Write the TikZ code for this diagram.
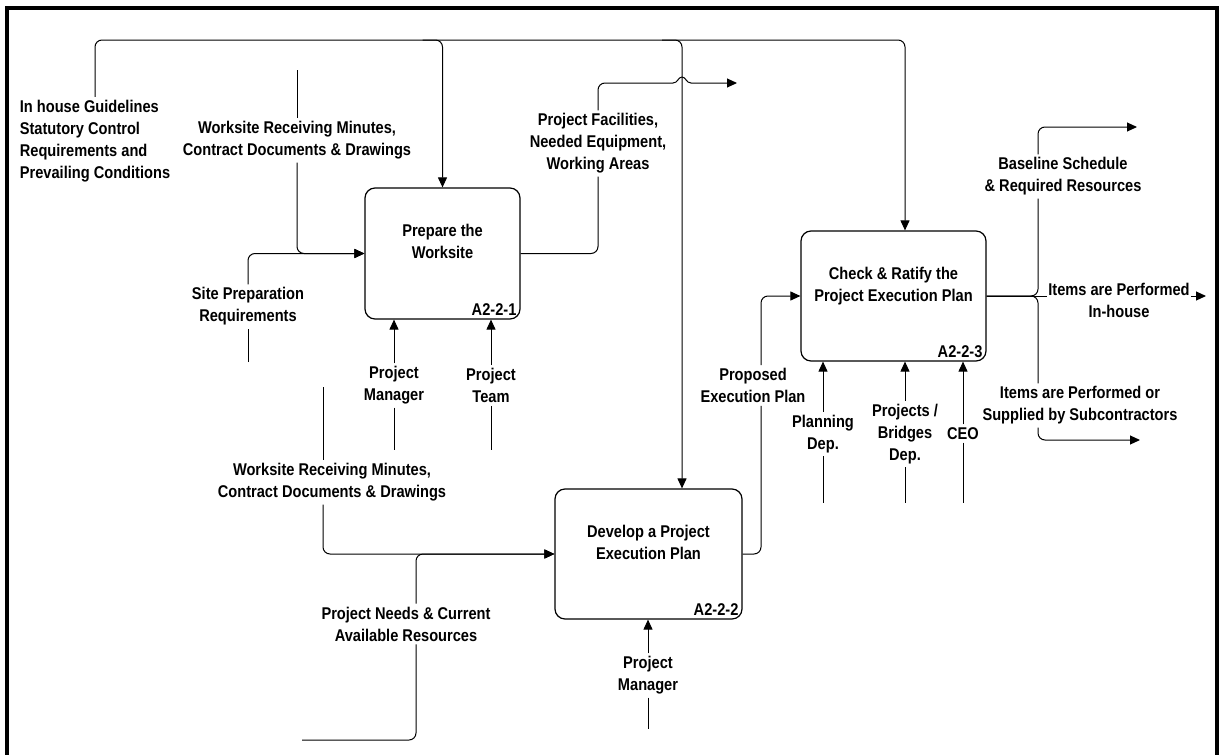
\documentclass[tikz,border=0pt]{standalone}
\usepackage{fontspec}
\setmainfont{Liberation Sans}[FakeStretch=0.86]
\usetikzlibrary{arrows.meta,positioning,calc}
\newcommand{\acttitle}[1]{\raisebox{10pt}[\height][\depth]{\begin{tabular}{@{}c@{}}#1\end{tabular}}}
\tikzset{
  act/.style={draw, rounded corners=10pt, line width=1.2pt, fill=white},
  idlbl/.style={anchor=south east, inner sep=4pt},
  lbl/.style={align=center, inner sep=3pt},
  link/.style={line width=1pt, rounded corners=7pt},
  flow/.style={-{Triangle[length=10pt,width=9pt]}, line width=1pt, rounded corners=7pt},
  frame/.style={line width=3.5pt}
}
\begin{document}
\begin{tikzpicture}[x=1pt, y=-1pt, font=\fontsize{17}{22}\selectfont\bfseries]
  \useasboundingbox (0,0) rectangle (1221,755);
  \draw[frame] (7,770) -- (7,8) -- (1217,8) -- (1217,770);

  % activities
  \node[act, minimum width=155pt, minimum height=131pt, label={[idlbl]south east:A2-2-1}] (prep) at (442.5,253.5) {\acttitle{Prepare the\\Worksite}};
  \node[act, minimum width=187pt, minimum height=130pt, label={[idlbl]south east:A2-2-2}] (dev) at (648.5,554) {\acttitle{Develop a Project\\Execution Plan}};
  \node[act, minimum width=185pt, minimum height=130pt, label={[idlbl]south east:A2-2-3}] (ratify) at (893.5,296) {\acttitle{Check \& Ratify the\\Project Execution Plan}};

  % arrow labels
  \node[lbl, align=left] (ihg) at (95,141) {In house Guidelines\\Statutory Control\\Requirements and\\Prevailing Conditions};
  \node[lbl] (wrmA) at (297,140.5) {Worksite Receiving Minutes,\\Contract Documents \& Drawings};
  \node[lbl] (spr) at (248,306.5) {Site Preparation\\Requirements};
  \node[lbl] (pfac) at (598,143.5) {Project Facilities,\\Needed Equipment,\\Working Areas};
  \node[lbl] (pmA) at (394,385.5) {Project\\Manager};
  \node[lbl] (team) at (491,385.5) {Project\\Team};
  \node[lbl] (wrmB) at (332,482.5) {Worksite Receiving Minutes,\\Contract Documents \& Drawings};
  \node[lbl] (pneeds) at (406,624) {Project Needs \& Current\\Available Resources};
  \node[lbl] (pmB) at (648,675.5) {Project\\Manager};
  \node[lbl] (pep) at (753,385.5) {Proposed\\Execution Plan};
  \node[lbl] (plan) at (823,434) {Planning\\Dep.};
  \node[lbl] (pbd) at (905,434) {Projects /\\Bridges\\Dep.};
  \node[lbl] (ceo) at (963,433.5) {CEO};
  \node[lbl] (bls) at (1063,176.5) {Baseline Schedule\\\& Required Resources};
  \node[lbl] (sub) at (1080,405.5) {Items are Performed or\\Supplied by Subcontractors};

  % free ends
  \coordinate (ctlend) at (905,40);
  \coordinate (hop) at (682,83);
  \coordinate (wrmAin) at (297,70);
  \coordinate (sprin) at (248,362);
  \coordinate (wrmBin) at (323,387);
  \coordinate (pneedsin) at (302,740);
  \coordinate (mechA) at (0,450);
  \coordinate (mechB) at (0,729);
  \coordinate (mechC) at (0,503);
  \coordinate (pfacout) at (737,83);
  \coordinate (blsout) at (1137,127);
  \coordinate (inhout) at (1206,296);
  \coordinate (subout) at (1140,440);

  % controls from the top
  \draw[flow] (ihg.north) |- (ctlend) -- (ctlend |- ratify.north);
  \draw[flow] ($(prep.north |- ctlend)+(-20,0)$) -| (prep.north);
  \draw[flow] ($(hop |- ctlend)+(-20,0)$) -| (hop |- dev.north);

  % inputs
  \draw[link] (wrmAin) -- (wrmA.north);
  \draw[flow] (wrmA.south) |- (prep.west);
  \draw[link] (sprin) -- (spr.south);
  \draw[flow] (spr.north) |- (prep.west);
  \draw[link] (wrmBin) -- ($(wrmB.north)+(-9,0)$);
  \draw[flow] ($(wrmB.south)+(-9,0)$) |- (dev.west);
  \draw[link] (pneedsin) -| ($(pneeds.south)+(10,0)$);
  \draw[flow] ($(pneeds.north)+(10,0)$) |- (dev.west);

  % mechanisms
  \foreach \m/\a in {pmA/prep, team/prep, pmB/dev, plan/ratify, pbd/ratify, ceo/ratify}
    \draw[flow] (\m.north) -- (\m.north |- \a.south);
  \foreach \m/\e in {pmA/mechA, team/mechA, pmB/mechB, plan/mechC, pbd/mechC, ceo/mechC}
    \draw[link] (\m.south) -- (\m.south |- \e);

  % outputs
  \draw[link] (prep.east) -| (pfac.south);
  \draw[link] (pfac.north) |- ($(hop)+(-9,0)$);
  \draw[flow, rounded corners=0pt] ($(hop)+(-9,0)$)
    .. controls ($(hop)+(-4,0)$) and ($(hop)+(-4,-6)$) .. ($(hop)+(0,-6)$)
    .. controls ($(hop)+(4,-6)$) and ($(hop)+(4,0)$) .. ($(hop)+(9,0)$) -- (pfacout);
  \draw[link] (dev.east) -| ($(pep.south)+(8,0)$);
  \draw[flow] ($(pep.north)+(8,0)$) |- (ratify.west);
  \draw[link] (ratify.east) -| ($(bls.south)+(-25,0)$);
  \draw[flow] ($(bls.north)+(-25,0)$) |- (blsout);
  \draw[link] (ratify.east) -| ($(sub.north)+(-42,0)$);
  \draw[flow] ($(sub.south)+(-42,0)$) |- (subout);
  \draw[flow] (ratify.east) -- (inhout);
  \node[lbl, fill=white, inner sep=1pt] (inh) at (1119,300.5) {Items are Performed\\In-house};
\end{tikzpicture}
\end{document}
